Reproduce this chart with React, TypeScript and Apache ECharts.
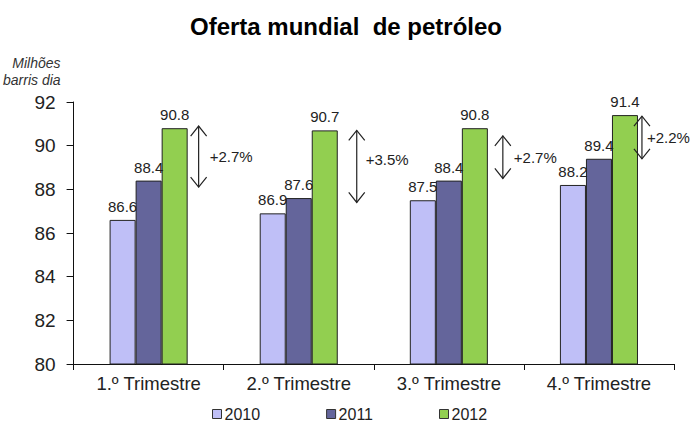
import React, { useEffect, useRef } from "react";
import * as echarts from "echarts";

const categories = ["1.º Trimestre", "2.º Trimestre", "3.º Trimestre", "4.º Trimestre"];
const values2010 = [86.6, 86.9, 87.5, 88.2];
const values2011 = [88.4, 87.6, 88.4, 89.4];
const values2012 = [90.8, 90.7, 90.8, 91.4];
const seriesNames = ["2010", "2011", "2012"];

// growth arrows: top and bottom values
const arrowTop = [90.9, 90.7, 90.45, 91.35];
const arrowBottom = [88.1, 87.4, 88.5, 89.4];
const arrowLabels = ["+2.7%", "+3.5%", "+2.7%", "+2.2%"];

// layout only (pixels)
const arrowDx = [50, 58, 54, 43];
const labelDx = [11, 9, 11, 5];
const labelDy = [0, -7, 0, 0];

const FONT = "'Liberation Sans', Arial, sans-serif";
const colors = ["#BFBFF7", "#64659B", "#92CF50"];

export default function App() {
  const ref = useRef<HTMLDivElement>(null);
  useEffect(() => {
    document.body.style.margin = "0";
    const chart = echarts.init(ref.current!, null, { renderer: "svg" });
    const barSeries = [values2010, values2011, values2012].map((vals, i) => ({
      name: seriesNames[i],
      type: "bar",
      data: vals,
      barGap: "0%",
      barCategoryGap: "48%",
      itemStyle: { color: colors[i], borderColor: "#222", borderWidth: 1 },
      label: {
        show: true,
        position: "top",
        distance: 6,
        fontSize: 15,
        color: "#222",
        fontFamily: FONT,
        formatter: (p: any) => p.value.toFixed(1),
      },
    }));
    const arrowData = arrowTop.map((t, i) => [i, t, arrowBottom[i]]);
    const option: any = {
      animation: false,
      backgroundColor: "#fff",
      title: {
        text: "Oferta mundial  de petróleo",
        left: "center",
        top: 9,
        textStyle: { fontSize: 24, fontWeight: "bold", color: "#000", fontFamily: FONT },
      },
      legend: {
        data: seriesNames,
        top: 401,
        left: 207,
        icon: "rect",
        itemWidth: 9,
        itemHeight: 9,
        itemGap: 66,
        textStyle: { fontSize: 16, color: "#222", fontFamily: FONT, padding: [0, 0, 0, -2] },
        itemStyle: { borderColor: "#333", borderWidth: 1 },
      },
      grid: { left: 71.5, right: 18, top: 102, bottom: 73 },
      xAxis: {
        type: "category",
        data: categories,
        axisLine: { lineStyle: { color: "#111", width: 1 } },
        axisTick: { show: true, length: 6, lineStyle: { color: "#111" } },
        axisLabel: { fontSize: 18.5, color: "#222", fontFamily: FONT, margin: 10 },
      },
      yAxis: {
        type: "value",
        min: 80,
        max: 92,
        interval: 2,
        name: "Milhões\nbarris dia",
        nameLocation: "end",
        nameGap: 14,
        nameTextStyle: {
          fontSize: 14,
          fontStyle: "italic",
          color: "#333",
          fontFamily: FONT,
          align: "right",
          verticalAlign: "bottom",
          lineHeight: 17,
          padding: [0, 13, 0, 0],
        },
        axisLine: { show: true, lineStyle: { color: "#111", width: 1 } },
        axisTick: { show: true, length: 7, lineStyle: { color: "#111" } },
        splitLine: { show: false },
        axisLabel: { fontSize: 19, color: "#222", fontFamily: FONT, margin: 18 },
      },
      series: [
        ...barSeries,
        {
          type: "custom",
          name: "arrows",
          data: arrowData,
          silent: true,
          z: 10,
          renderItem: (params: any, api: any) => {
            const i = params.dataIndex;
            const idx = api.value(0);
            const pTop = api.coord([idx, api.value(1)]);
            const pBot = api.coord([idx, api.value(2)]);
            const x = pTop[0] + arrowDx[i];
            const y1 = pTop[1];
            const y2 = pBot[1];
            const hw = 8;
            const hh = 10;
            const stroke = { stroke: "#222", lineWidth: 1.2, fill: null };
            return {
              type: "group",
              children: [
                { type: "line", shape: { x1: x, y1: y1, x2: x, y2: y2 }, style: stroke },
                {
                  type: "polyline",
                  shape: { points: [[x - hw, y1 + hh], [x, y1], [x + hw, y1 + hh]] },
                  style: stroke,
                },
                {
                  type: "polyline",
                  shape: { points: [[x - hw, y2 - hh], [x, y2], [x + hw, y2 - hh]] },
                  style: stroke,
                },
                {
                  type: "text",
                  x: x + labelDx[i],
                  y: (y1 + y2) / 2 + labelDy[i],
                  style: {
                    text: arrowLabels[i],
                    fontSize: 15,
                    fontFamily: FONT,
                    fill: "#222",
                    align: "left",
                    verticalAlign: "middle",
                  },
                },
              ],
            };
          },
        },
      ],
    };
    chart.setOption(option);
    return () => chart.dispose();
  }, []);
  return <div ref={ref} style={{ width: 692, height: 437 }} />;
}
